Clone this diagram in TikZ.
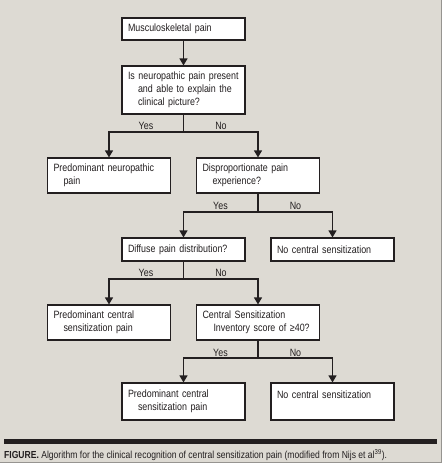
\documentclass[tikz,border=0pt]{standalone}
\usepackage{fontspec}
\setmainfont[FakeStretch=0.84]{Liberation Sans}
\usetikzlibrary{arrows.meta}
\definecolor{bg}{RGB}{221,218,211}
\definecolor{ink}{RGB}{35,31,32}
\definecolor{edge}{RGB}{150,148,144}
\begin{document}
\begin{tikzpicture}[x=1pt,y=-1pt,
  box/.style={draw=ink,line width=1.1pt,fill=white,text=ink,minimum width=123pt,
    text width=111pt,inner xsep=6pt,inner ysep=0pt,align=left,font=\fontsize{10.6}{13}\selectfont},
  arr/.style={draw=ink,line width=1.1pt,-{Triangle[width=8pt,length=7pt]}},
  lnk/.style={draw=ink,line width=1.1pt},
  lab/.style={text=ink,font=\fontsize{10.6}{12}\selectfont,inner sep=0pt}]
\useasboundingbox (0,0) rectangle (442,463);
\fill[bg] (0,0) rectangle (442,463);
\draw[edge,line width=1pt] (441.5,0) -- (441.5,462.5) -- (0,462.5);
% boxes
\node[box,minimum height=22pt] (b1) at (183.5,29) {Musculoskeletal pain};
\node[box,minimum height=48pt] (b2) at (183.5,90) {Is neuropathic pain present\\\hspace*{10pt}and able to explain the\\\hspace*{10pt}clinical picture?};
\node[box,minimum height=35pt] (b3) at (109,175.5) {Predominant neuropathic\\\hspace*{10pt}pain};
\node[box,minimum height=35pt] (b4) at (258,175.5) {Disproportionate pain\\\hspace*{10pt}experience?};
\node[box,minimum height=23pt] (b5) at (183.5,249.5) {Diffuse pain distribution?};
\node[box,minimum height=23pt] (b6) at (332.5,249.5) {No central sensitization};
\node[box,minimum height=35pt] (b7) at (109,322.5) {Predominant central\\\hspace*{10pt}sensitization pain};
\node[box,minimum height=35pt] (b8) at (258,322.5) {Central Sensitization\\\hspace*{11pt}Inventory score of ≥40?};
\node[box,minimum height=37pt] (b9) at (183.5,401.5) {Predominant central\\\hspace*{10pt}sensitization pain};
\node[box,minimum height=37pt] (b10) at (332.5,401.5) {No central sensitization\\\mbox{}};
% junctions
\coordinate (j1) at (183.5,132);
\coordinate (j2) at (258,212);
\coordinate (j3) at (183.5,279);
\coordinate (j4) at (258,358);
% connectors
\draw[arr] (b1) -- (b2);
\draw[lnk] (b2) -- (j1);
\draw[arr] (j1) -| (b3);
\draw[arr] (j1) -| (b4);
\draw[lnk] (b4) -- (j2);
\draw[arr] (j2) -| (b5);
\draw[arr] (j2) -| (b6);
\draw[lnk] (b5) -- (j3);
\draw[arr] (j3) -| (b7);
\draw[arr] (j3) -| (b8);
\draw[lnk] (b8) -- (j4);
\draw[arr] (j4) -| (b9);
\draw[arr] (j4) -| (b10);
% labels
\node[lab] (y1) at (146,126) {Yes};
\node[lab] (n1) at (221,126) {No};
\node[lab] (y2) at (220.5,205.5) {Yes};
\node[lab] (n2) at (295.5,205.5) {No};
\node[lab] (y3) at (146,273) {Yes};
\node[lab] (n3) at (221,273) {No};
\node[lab] (y4) at (220.5,353) {Yes};
\node[lab] (n4) at (295.5,353) {No};
% caption
\fill[ink] (4,439) rectangle (437,444);
\node[anchor=base west,inner sep=0pt,text=ink,font=\fontsize{10.2}{12}\selectfont] (cap) at (4,458.5)
  {\textbf{FIGURE.} Algorithm for the clinical recognition of central sensitization pain (modified from Nijs et al\textsuperscript{39}).};
\end{tikzpicture}
\end{document}
